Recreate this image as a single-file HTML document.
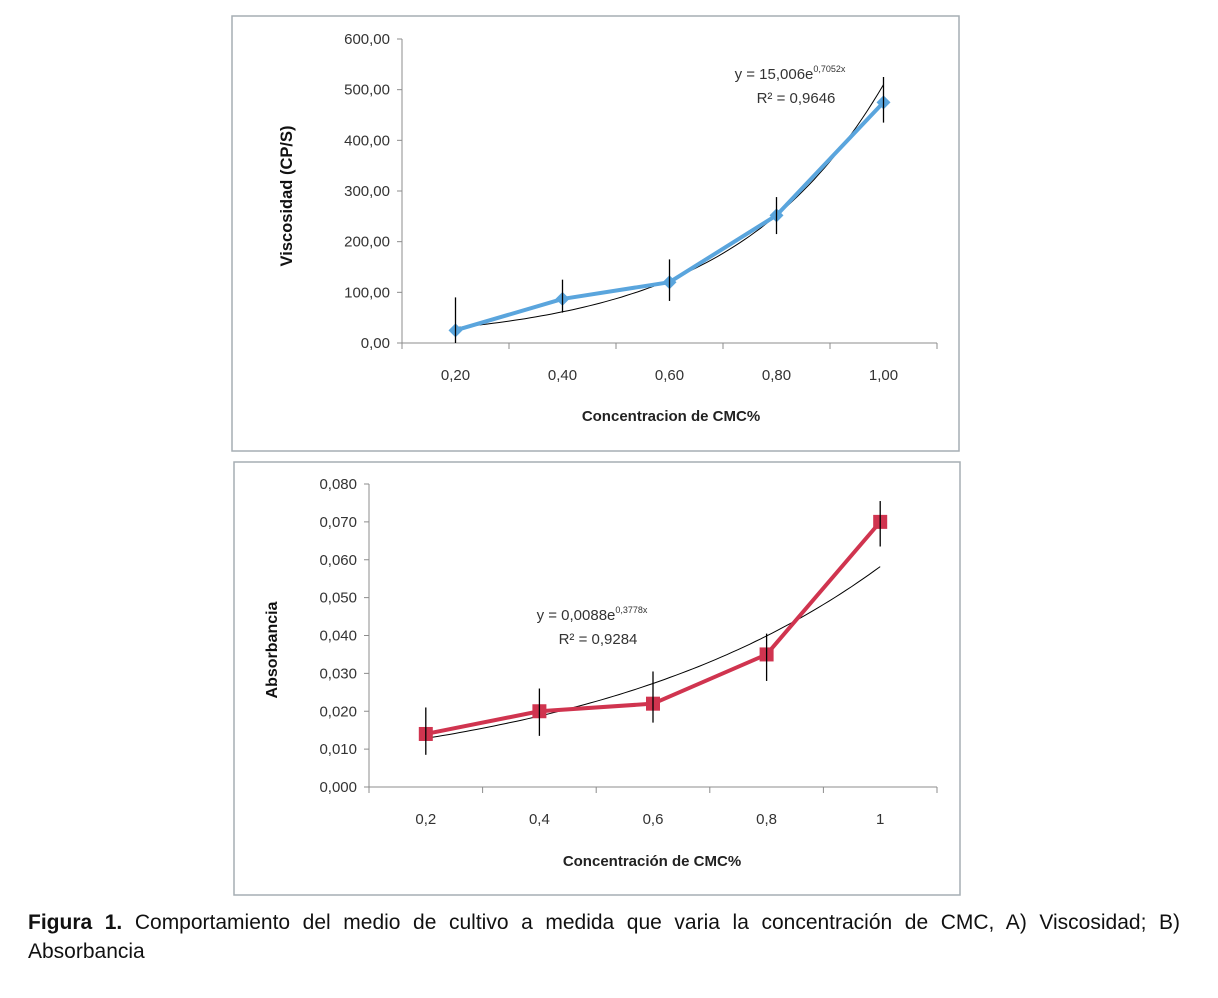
<!DOCTYPE html>
<html><head><meta charset="utf-8">
<style>
html,body{margin:0;padding:0;background:#fff;}
body{width:1218px;height:998px;position:relative;overflow:hidden;font-family:"Liberation Sans",sans-serif;}
.cap{position:absolute;left:28px;width:1152px;font-size:21px;line-height:29px;color:#111;white-space:nowrap;}
#cap1{top:908px;text-align:justify;text-align-last:justify;white-space:normal;}
#cap2{top:937px;}
svg text{font-family:"Liberation Sans",sans-serif;}
</style></head>
<body>
<svg id="fig" width="1218" height="905" style="position:absolute;left:0;top:0"></svg>
<div id="cap1" class="cap"><b>Figura 1.</b> Comportamiento del medio de cultivo a medida que varia la concentración de CMC, A) Viscosidad; B)</div>
<div id="cap2" class="cap">Absorbancia</div>
<script>
// Chart A data
const catsA = ["0,20","0,40","0,60","0,80","1,00"];
const valsA = [25, 87, 120, 252, 475];
const errLoA = [0, 60, 83, 215, 435];
const errHiA = [90, 125, 165, 288, 525];
const ticksA = [0,100,200,300,400,500,600];
const tickLabelsA = ["0,00","100,00","200,00","300,00","400,00","500,00","600,00"];
const trendA = [15.006, 0.7052];
// Chart B data
const catsB = ["0,2","0,4","0,6","0,8","1"];
const valsB = [0.014, 0.020, 0.022, 0.035, 0.070];
const errLoB = [0.0085, 0.0135, 0.017, 0.028, 0.0635];
const errHiB = [0.021, 0.026, 0.0305, 0.0405, 0.0755];
const ticksB = [0,0.01,0.02,0.03,0.04,0.05,0.06,0.07,0.08];
const tickLabelsB = ["0,000","0,010","0,020","0,030","0,040","0,050","0,060","0,070","0,080"];
const trendB = [0.0088, 0.3778];

const NS="http://www.w3.org/2000/svg";
const svg=document.getElementById('fig');
function mk(tag,attrs,parent,text){const e=document.createElementNS(NS,tag);for(const k in attrs)e.setAttribute(k,attrs[k]);if(text!==undefined)e.textContent=text;(parent||svg).appendChild(e);return e;}

function chart(cfg){
  const g=mk('g',{});
  
  
  const fr=mk('rect',{x:cfg.box[0],y:cfg.box[1],width:cfg.box[2],height:cfg.box[3],fill:'none',stroke:'#a6aeb4','stroke-width':1.5},g);
  
  
  const n=cfg.cats.length, L=cfg.left, R=cfg.right, T=cfg.top, B=cfg.bottom, ymax=cfg.ticks[cfg.ticks.length-1];
  const step=(R-L)/n;
  const xs=i=>L+step*(i+0.5);
  const ys=v=>B-(v/ymax)*(B-T);
  const ya=mk('line',{x1:L,y1:T,x2:L,y2:B,stroke:'#8c8c8c','stroke-width':1},g);
  
  
  const xa=mk('line',{x1:L,y1:B,x2:R,y2:B,stroke:'#8c8c8c','stroke-width':1},g);
  
  
  cfg.ticks.forEach((t,i)=>{
    mk('line',{x1:L-5,y1:ys(t),x2:L,y2:ys(t),stroke:'#8c8c8c'},g);
    const tl=mk('text',{x:L-12,y:ys(t)+5,'text-anchor':'end','font-size':15,fill:'#333'},g,cfg.tickLabels[i]);
    
    
  });
  for(let i=0;i<=n;i++) mk('line',{x1:L+step*i,y1:B,x2:L+step*i,y2:B+6,stroke:'#8c8c8c'},g);
  cfg.cats.forEach((c,i)=>{
    const xl=mk('text',{x:xs(i),y:B+37,'text-anchor':'middle','font-size':15,fill:'#333'},g,c);
    
    
  });
  let d='';
  for(let k=0;k<=80;k++){const xx=1+4*k/80;const v=cfg.trend[0]*Math.exp(cfg.trend[1]*xx);const px=xs(0)+(xx-1)*step;d+=(k?'L':'M')+px.toFixed(1)+','+ys(v).toFixed(1);}
  const tr=mk('path',{d:d,fill:'none',stroke:'#000','stroke-width':1},g);
  
  
  const pts=cfg.vals.map((v,i)=>xs(i)+','+ys(v)).join(' ');
  const sl=mk('polyline',{points:pts,fill:'none',stroke:cfg.color,'stroke-width':4,'stroke-linejoin':'round'},g);
  
  
  cfg.vals.forEach((v,i)=>{
    let m;
    if(cfg.marker==='diamond'){
      const x=xs(i),y=ys(v);
      m=mk('polygon',{points:`${x},${y-7} ${x+7},${y} ${x},${y+7} ${x-7},${y}`,fill:cfg.color},g);
    } else {
      m=mk('rect',{x:xs(i)-7,y:ys(v)-7,width:14,height:14,fill:cfg.color},g);
    }
    
    
    const eb=mk('line',{x1:xs(i),y1:ys(cfg.lo[i]),x2:xs(i),y2:ys(cfg.hi[i]),stroke:'#000','stroke-width':1.3},g);
    
    
  });
  const eq=mk('text',{x:cfg.eq[0],y:cfg.eq[1],'text-anchor':'middle','font-size':15,fill:'#333'},g);
  
  
  mk('tspan',{},eq,cfg.eqText[0]);
  mk('tspan',{'font-size':9,dy:-7},eq,cfg.eqText[1]);
  const r2=mk('text',{x:cfg.eq[0]+cfg.r2dx,y:cfg.eq[1]+24,'text-anchor':'middle','font-size':15,fill:'#333'},g,cfg.r2);
  
  
  const xt=mk('text',{x:cfg.xt[0],y:cfg.xt[1],'text-anchor':'middle','font-size':15,'font-weight':'bold',fill:'#222'},g,cfg.xTitle);
  
  
  const yt=mk('text',{x:0,y:0,'text-anchor':'middle','font-size':cfg.ytSize,'font-weight':'bold',fill:'#111',transform:`translate(${cfg.yt[0]},${cfg.yt[1]}) rotate(-90)`},g,cfg.yTitle);
  
  
}

chart({name:'viscosity-chart',box:[232,16,727,435],left:402,right:937,top:39,bottom:343,
  cats:catsA,vals:valsA,lo:errLoA,hi:errHiA,ticks:ticksA,tickLabels:tickLabelsA,trend:trendA,
  color:'#5aa5dd',marker:'diamond',eq:[790,79],eqText:['y = 15,006e','0,7052x'],r2:'R² = 0,9646',r2dx:6,
  xt:[671,421],xTitle:'Concentracion de CMC%',yt:[292,196],ytSize:16.5,yTitle:'Viscosidad  (CP/S)'});
chart({name:'absorbance-chart',box:[234,462,726,433],left:369,right:937,top:484,bottom:787,
  cats:catsB,vals:valsB,lo:errLoB,hi:errHiB,ticks:ticksB,tickLabels:tickLabelsB,trend:trendB,
  color:'#d0344f',marker:'square',eq:[592,620],eqText:['y = 0,0088e','0,3778x'],r2:'R² = 0,9284',r2dx:6,
  xt:[652,866],xTitle:'Concentración de CMC%',yt:[277,650],ytSize:16,yTitle:'Absorbancia'});
</script>
</body></html>
